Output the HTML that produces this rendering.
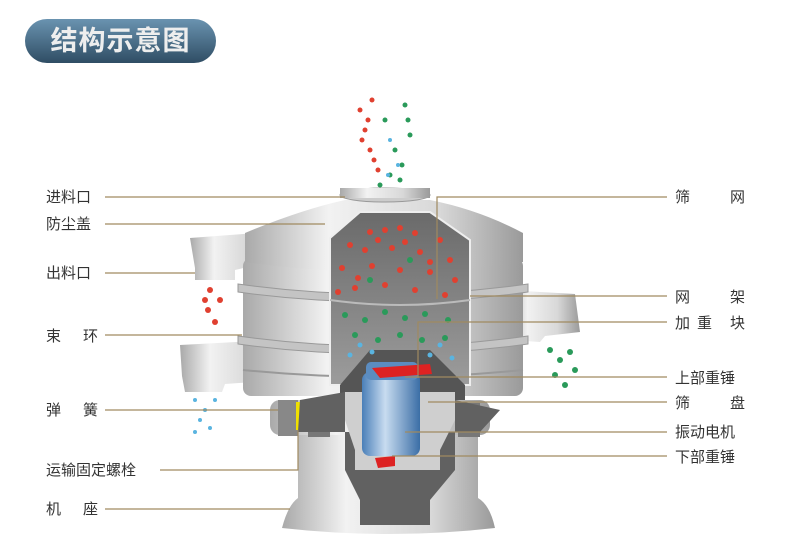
<!DOCTYPE html>
<html><head><meta charset="utf-8"><style>
body{margin:0;background:#fff;width:790px;height:560px;overflow:hidden;font-family:"Liberation Sans","Noto Sans CJK SC",sans-serif}
.t{position:absolute;left:25px;top:19px;width:191px;height:44px;border-radius:22px;background:linear-gradient(#6a93b0,#2f4d64);color:#eee;font-weight:bold;font-size:27px;line-height:44px;text-align:center;letter-spacing:1px}
svg{position:absolute;left:0;top:0}
svg text{font-family:"Liberation Sans","Noto Sans CJK SC",sans-serif;font-size:15px;fill:#333}
</style></head><body>
<div class="t">结构示意图</div>
<svg width="790" height="560" viewBox="0 0 790 560">
<defs>
<linearGradient id="m" x1="0" x2="1"><stop offset="0" stop-color="#a9a9a9"/><stop offset=".3" stop-color="#f2f2f2"/><stop offset=".7" stop-color="#d8d8d8"/><stop offset="1" stop-color="#9a9a9a"/></linearGradient>
<linearGradient id="b" x1="0" x2="1"><stop offset="0" stop-color="#4a7fb8"/><stop offset=".4" stop-color="#c8dcf0"/><stop offset="1" stop-color="#3b6ea6"/></linearGradient>
<linearGradient id="c" x1="0" y1="0" x2="0" y2="1"><stop offset="0" stop-color="#6a6a6a"/><stop offset="1" stop-color="#9c9c9c"/></linearGradient>
</defs>
<path d="M282 528 Q288 505 298 498 L298 432 L478 432 L478 498 Q490 505 495 528 Q390 540 282 528Z" fill="url(#m)"/>
<rect x="270" y="400" width="220" height="35" rx="10" fill="url(#m)"/>
<rect x="278" y="400" width="20" height="36" fill="#888"/>
<rect x="308" y="403" width="22" height="34" fill="#777"/>
<rect x="458" y="403" width="22" height="34" fill="#777"/>
<rect x="296" y="402" width="6" height="28" fill="#f0e000"/>
<path d="M190 238 L270 232 L270 262 L235 270 L235 280 L195 280 L195 268Z" fill="url(#m)"/>
<path d="M180 345 L275 340 L280 380 L225 384 L222 392 L185 392 L182 376Z" fill="url(#m)"/>
<path d="M505 290 L575 294 L580 332 L545 336 L540 342 L510 340Z" fill="url(#m)"/>
<rect x="243" y="258" width="280" height="138" rx="8" fill="url(#m)"/>
<path d="M238 284 Q383 304 528 284 L528 292 Q383 312 238 292Z" fill="#c4c4c4" stroke="#999"/>
<path d="M238 336 Q383 356 528 336 L528 344 Q383 364 238 344Z" fill="#c4c4c4" stroke="#999"/>
<path d="M243 370 Q383 384 523 370" stroke="#999" fill="none" stroke-width="2"/>
<path d="M245 233 Q300 210 345 200 L430 200 Q480 210 523 233 L523 262 Q383 282 245 262Z" fill="url(#m)"/>
<ellipse cx="385" cy="195" rx="45" ry="7" fill="#ccc" stroke="#999"/>
<rect x="340" y="188" width="90" height="10" fill="url(#m)"/>
<path d="M330 238 L360 212 L430 212 L470 240 L470 385 L330 385Z" fill="url(#c)" stroke="#eee" stroke-width="2"/>
<path d="M330 300 Q400 310 470 300" stroke="#bbb" stroke-width="2" fill="none"/>
<path d="M340 385 L370 350 L430 350 L465 385 L465 400 L340 400Z" fill="#555"/>
<path d="M300 400 L345 392 L345 470 L360 500 L360 525 L430 525 L430 500 L455 470 L455 400 L500 410 L480 432 L298 432Z" fill="#616161"/>
<path d="M345 392 L455 392 L455 420 L440 450 L440 470 L355 470 L355 450 L345 420Z" fill="#cfcfcf"/>
<rect x="362" y="372" width="58" height="84" rx="8" fill="url(#b)"/>
<rect x="366" y="362" width="52" height="18" rx="5" fill="#5b8cc0"/>
<path d="M372 368 L430 364 L432 374 L380 378Z" fill="#d22"/>
<path d="M375 458 L395 456 L395 466 L378 468Z" fill="#d22"/>
<g fill="#e04030">
<circle cx="370" cy="232" r="3"/><circle cx="385" cy="230" r="3"/><circle cx="400" cy="228" r="3"/><circle cx="415" cy="233" r="3"/><circle cx="440" cy="240" r="3"/><circle cx="350" cy="245" r="3"/><circle cx="365" cy="250" r="3"/><circle cx="392" cy="248" r="3"/><circle cx="420" cy="252" r="3"/><circle cx="450" cy="260" r="3"/><circle cx="342" cy="268" r="3"/><circle cx="372" cy="266" r="3"/><circle cx="400" cy="270" r="3"/><circle cx="430" cy="272" r="3"/><circle cx="455" cy="280" r="3"/><circle cx="355" cy="288" r="3"/><circle cx="385" cy="285" r="3"/><circle cx="415" cy="290" r="3"/><circle cx="445" cy="295" r="3"/><circle cx="338" cy="292" r="3"/>
<circle cx="378" cy="240" r="3"/><circle cx="405" cy="242" r="3"/><circle cx="430" cy="262" r="3"/><circle cx="358" cy="278" r="3"/>
<circle cx="210" cy="290" r="3"/><circle cx="220" cy="300" r="3"/><circle cx="208" cy="310" r="3"/><circle cx="215" cy="322" r="3"/><circle cx="205" cy="300" r="3"/>
<circle cx="360" cy="110" r="2.5"/><circle cx="365" cy="130" r="2.5"/><circle cx="370" cy="150" r="2.5"/><circle cx="378" cy="170" r="2.5"/><circle cx="372" cy="100" r="2.5"/><circle cx="362" cy="140" r="2.5"/><circle cx="374" cy="160" r="2.5"/><circle cx="368" cy="120" r="2.5"/>
</g>
<g fill="#2a9a5a">
<circle cx="345" cy="315" r="3"/><circle cx="365" cy="320" r="3"/><circle cx="385" cy="312" r="3"/><circle cx="405" cy="318" r="3"/><circle cx="425" cy="314" r="3"/><circle cx="448" cy="320" r="3"/><circle cx="355" cy="335" r="3"/><circle cx="378" cy="340" r="3"/><circle cx="400" cy="335" r="3"/><circle cx="422" cy="340" r="3"/><circle cx="445" cy="338" r="3"/><circle cx="370" cy="280" r="3"/><circle cx="410" cy="260" r="3"/>
<circle cx="550" cy="350" r="3"/><circle cx="560" cy="360" r="3"/><circle cx="570" cy="352" r="3"/><circle cx="555" cy="375" r="3"/><circle cx="565" cy="385" r="3"/><circle cx="575" cy="370" r="3"/>
<circle cx="385" cy="120" r="2.5"/><circle cx="395" cy="150" r="2.5"/><circle cx="405" cy="105" r="2.5"/><circle cx="410" cy="135" r="2.5"/><circle cx="400" cy="180" r="2.5"/><circle cx="380" cy="185" r="2.5"/><circle cx="408" cy="120" r="2.5"/><circle cx="402" cy="165" r="2.5"/><circle cx="390" cy="175" r="2.5"/>
</g>
<g fill="#5ab4e0">
<circle cx="350" cy="355" r="2.5"/><circle cx="372" cy="352" r="2.5"/><circle cx="430" cy="355" r="2.5"/><circle cx="452" cy="358" r="2.5"/><circle cx="440" cy="345" r="2.5"/><circle cx="360" cy="345" r="2.5"/>
<circle cx="195" cy="400" r="2"/><circle cx="205" cy="410" r="2"/><circle cx="200" cy="420" r="2"/><circle cx="210" cy="428" r="2"/><circle cx="195" cy="432" r="2"/><circle cx="215" cy="400" r="2"/>
<circle cx="390" cy="140" r="2"/><circle cx="398" cy="165" r="2"/><circle cx="388" cy="175" r="2"/>
</g>
<g stroke="#a08a60" stroke-width="1.2" fill="none">
<path d="M105 197H345"/><path d="M105 224H325"/><path d="M105 273H195"/><path d="M105 335H242"/><path d="M105 410H278"/><path d="M160 470H298V430"/><path d="M105 509H290"/>
<path d="M437 299V197H667"/><path d="M470 296H667"/><path d="M418 378V322H667"/><path d="M405 377H667"/><path d="M428 402H667"/><path d="M405 432H667"/><path d="M392 456H667"/>
</g>
<text x="46" y="202">进料口</text><text x="46" y="229">防尘盖</text><text x="46" y="278">出料口</text>
<text x="46" y="341">束</text><text x="83" y="341">环</text>
<text x="46" y="415">弹</text><text x="83" y="415">簧</text>
<text x="46" y="475">运输固定螺栓</text>
<text x="46" y="514">机</text><text x="83" y="514">座</text>
<text x="675" y="202">筛</text><text x="730" y="202">网</text>
<text x="675" y="302">网</text><text x="730" y="302">架</text>
<text x="675" y="328">加</text><text x="697" y="328">重</text><text x="730" y="328">块</text>
<text x="675" y="383">上部重锤</text>
<text x="675" y="408">筛</text><text x="730" y="408">盘</text>
<text x="675" y="437">振动电机</text>
<text x="675" y="462">下部重锤</text>
</svg>
</body></html>
